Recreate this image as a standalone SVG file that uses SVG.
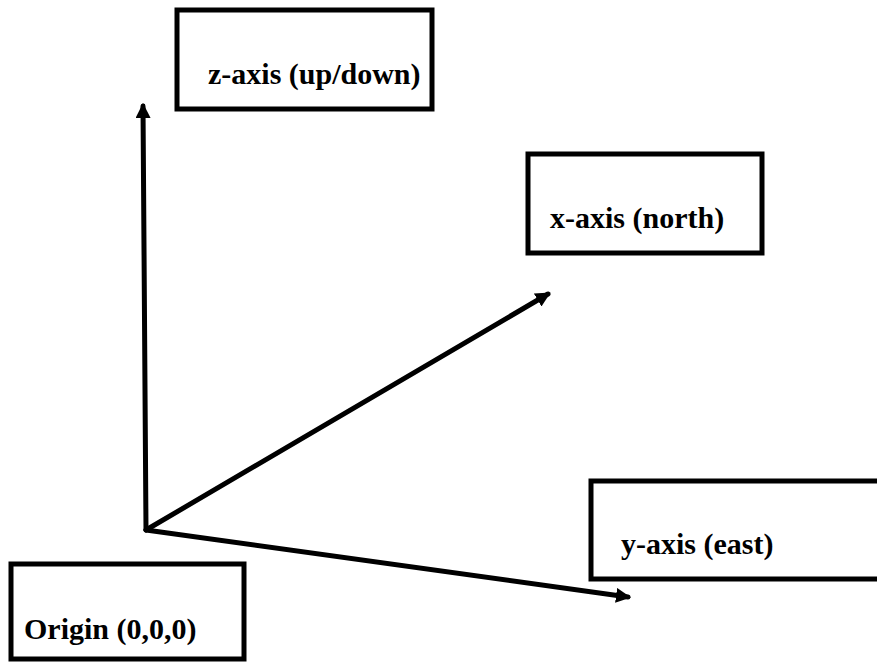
<svg xmlns="http://www.w3.org/2000/svg" width="877" height="665" viewBox="0 0 877 665">
<style>
.box{fill:#fff;stroke:#000;stroke-width:5}
.lbl{font-family:"Liberation Serif","DejaVu Serif",serif;font-weight:bold;font-size:30px;fill:#000}
.ax{stroke:#000;stroke-width:5;fill:none;stroke-linecap:round}
</style>
<defs>
<marker id="ah" viewBox="0 0 10 10" refX="8" refY="5" markerWidth="3" markerHeight="3" orient="auto" markerUnits="strokeWidth">
<path d="M0,0 L10,5 L0,10 z" fill="#000"/>
</marker>
</defs>
<rect width="877" height="665" fill="#fff"/>
<g id="connectors">
<line class="ax" x1="146" y1="530" x2="143" y2="106" marker-end="url(#ah)"/>
<line class="ax" x1="146" y1="530" x2="548" y2="294" marker-end="url(#ah)"/>
<line class="ax" x1="146" y1="530" x2="628" y2="597" marker-end="url(#ah)"/>
</g>
<g id="z-axis">
<rect class="box" x="177" y="10" width="255" height="99"/>
<text class="lbl" x="208" y="84">z-axis (up/down)</text>
</g>
<g id="x-axis">
<rect class="box" x="528" y="154" width="234" height="99"/>
<text class="lbl" x="550" y="228">x-axis (north)</text>
</g>
<g id="y-axis">
<rect class="box" x="591" y="481" width="290" height="98"/>
<text class="lbl" x="621" y="554">y-axis (east)</text>
</g>
<g id="origin">
<rect class="box" x="11" y="564" width="233" height="95"/>
<text class="lbl" x="24" y="639">Origin (0,0,0)</text>
</g>
</svg>
